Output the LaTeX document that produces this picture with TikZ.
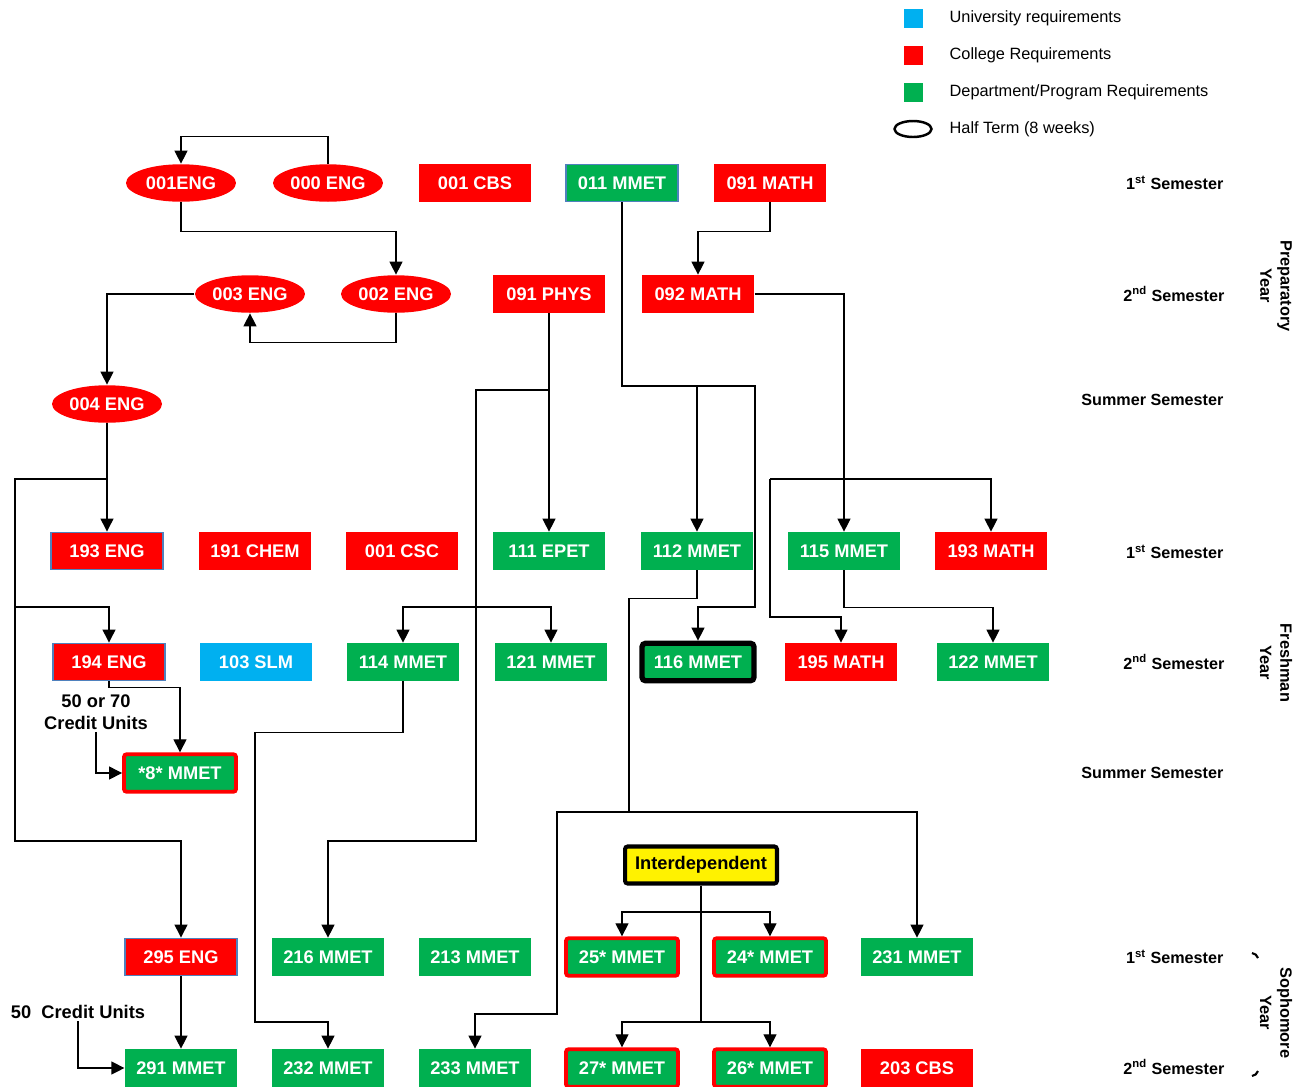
\documentclass[tikz,border=0pt]{standalone}
\usepackage{fontspec}
\setmainfont{Liberation Sans}
\usetikzlibrary{arrows.meta, positioning, shapes.geometric}
\definecolor{CollRed}{HTML}{FF0000}
\definecolor{DeptGreen}{HTML}{00B050}
\definecolor{UnivBlue}{HTML}{00B0F0}
\definecolor{EdgeBlue}{HTML}{4F81BD}

\begin{document}
\begin{tikzpicture}[x=0.02cm, y=-0.02cm, >={Triangle[width=7.4pt,length=7.4pt]}, line width=0.7pt,
  course/.style={rectangle, minimum width=2.24cm, minimum height=0.75cm, inner sep=0pt,
    text=white, font=\fontsize{10.4}{12}\selectfont\bfseries},
  college/.style={course, fill=CollRed},
  dept/.style={course, fill=DeptGreen},
  univ/.style={course, fill=UnivBlue},
  half/.style={course, ellipse, fill=CollRed, minimum width=2.2cm},
  edged/.style={draw=EdgeBlue, line width=0.8pt},
  paired/.style={dept, draw=CollRed, line width=2.2pt, rounded corners=1.5pt},
  sem/.style={anchor=east, inner sep=0pt, font=\fontsize{9.2}{11}\selectfont\bfseries},
  year/.style={rotate=-90, align=center, font=\fontsize{9.3}{11.5}\selectfont\bfseries},
  key/.style={anchor=west, inner sep=0pt, font=\fontsize{9.3}{11}\selectfont},
  keybox/.style={minimum size=0.38cm, inner sep=0pt},
  units/.style={align=center, inner sep=1pt, font=\fontsize{10.4}{12.5}\selectfont\bfseries}]
  \useasboundingbox (0,0) rectangle (1309,1086);

  % --- Legend ---
  \node[keybox, fill=UnivBlue] (kuniv) at (913,18) {};
  \node[keybox, fill=CollRed] (kcoll) at (913,55) {};
  \node[keybox, fill=DeptGreen] (kdept) at (913,92) {};
  \node[draw, ellipse, line width=1.4pt, minimum width=0.74cm, minimum height=0.32cm, inner sep=0pt] (khalf) at (913,129) {};
  \node[key] (tuniv) at (949,18) {University requirements};
  \node[key] (tcoll) at (949,55) {College Requirements};
  \node[key] (tdept) at (949,92) {Department/Program Requirements};
  \node[key] (thalf) at (949,129) {Half Term (8 weeks)};

  % --- Preparatory year ---
  \node[half] (e001) at (181,183) {001ENG};
  \node[half] (e000) at (328,183) {000 ENG};
  \node[college] (cbs001) at (475,183) {001 CBS};
  \node[dept, edged] (mmet011) at (622,183) {011 MMET};
  \node[college] (math091) at (770,183) {091 MATH};
  \node[half] (e003) at (250,294) {003 ENG};
  \node[half] (e002) at (396,294) {002 ENG};
  \node[college] (phys091) at (549,294) {091 PHYS};
  \node[college] (math092) at (698,294) {092 MATH};
  \node[half] (e004) at (107,404) {004 ENG};

  % --- Freshman year ---
  \node[college, edged] (eng193) at (107,551) {193 ENG};
  \node[college] (chem191) at (255,551) {191 CHEM};
  \node[college] (csc001) at (402,551) {001 CSC};
  \node[dept] (epet111) at (549,551) {111 EPET};
  \node[dept] (mmet112) at (697,551) {112 MMET};
  \node[dept] (mmet115) at (844,551) {115 MMET};
  \node[college] (math193) at (991,551) {193 MATH};
  \node[college, edged] (eng194) at (109,662) {194 ENG};
  \node[univ] (slm103) at (256,662) {103 SLM};
  \node[dept] (mmet114) at (403,662) {114 MMET};
  \node[dept] (mmet121) at (551,662) {121 MMET};
  \node[dept, draw=black, line width=3pt, rounded corners=2pt] (mmet116) at (698,662) {116 MMET};
  \node[college] (math195) at (841,662) {195 MATH};
  \node[dept] (mmet122) at (993,662) {122 MMET};
  \node[paired] (mmet8) at (180,773) {*8* MMET};
  \node[units] (cu70) at (96,712) {50 or 70\\Credit Units};

  % --- Sophomore year ---
  \node[draw=black, fill=yellow, line width=2.3pt, rounded corners=1.5pt, minimum width=3.04cm,
    minimum height=0.74cm, font=\fontsize{10.4}{12}\selectfont\bfseries] (inter) at (701,865) {Interdependent};
  \node[college, edged] (eng295) at (181,957) {295 ENG};
  \node[dept] (mmet216) at (328,957) {216 MMET};
  \node[dept] (mmet213) at (475,957) {213 MMET};
  \node[paired] (mmet25) at (622,957) {25* MMET};
  \node[paired] (mmet24) at (770,957) {24* MMET};
  \node[dept] (mmet231) at (917,957) {231 MMET};
  \node[dept] (mmet291) at (181,1068) {291 MMET};
  \node[dept] (mmet232) at (328,1068) {232 MMET};
  \node[dept] (mmet233) at (475,1068) {233 MMET};
  \node[paired] (mmet27) at (622,1068) {27* MMET};
  \node[paired] (mmet26) at (770,1068) {26* MMET};
  \node[college] (cbs203) at (917,1068) {203 CBS};
  \node[units] (cu50) at (78,1012) {50\ \ Credit Units};

  % --- Semester and year labels ---
  \node[sem] (s11) at (1224,183) {1\textsuperscript{st} Semester};
  \node[sem] (s12) at (1225,294) {2\textsuperscript{nd} Semester};
  \node[sem] (s1s) at (1224,400) {Summer Semester};
  \node[sem] (s21) at (1224,552) {1\textsuperscript{st} Semester};
  \node[sem] (s22) at (1225,662) {2\textsuperscript{nd} Semester};
  \node[sem] (s2s) at (1224,773) {Summer Semester};
  \node[sem] (s31) at (1224,957) {1\textsuperscript{st} Semester};
  \node[sem] (s32) at (1225,1067) {2\textsuperscript{nd} Semester};
  \node[year] (yprep) at (1276,286) {Preparatory\\Year};
  \node[year] (yfresh) at (1276,663) {Freshman\\Year};
  \node[year] (ysoph) at (1276,1013) {Sophomore\\Year};
  \draw[line width=1.2pt] (1252,953) to[bend left=30] (1258,958);
  \draw[line width=1.2pt] (1252,1076) to[bend right=30] (1258,1071);

  % --- Connectors: English ---
  \coordinate (engsplit) at (107,479);
  \coordinate (engrail) at (15,479);
  \coordinate (engtap) at (15,607);
  \coordinate (engturn) at (15,841);
  \draw[->] (e000.north) -- ++(0,-27) -| (e001.north);
  \draw[->] (e001.south) -- ++(0,29) -| (e002.north);
  \draw[->] (e002.south) -- ++(0,29) -| (e003.south);
  \draw[->] (e003.west) -| (e004.north);
  \draw[->] (e004.south) -- (eng193.north);
  \draw[->] (engsplit) -- (engrail) -- (engturn) -| (eng295.north);
  \draw[->] (engtap) -| (eng194.north);
  \draw[->] (eng194.south) -- ++(0,6) -| (mmet8.north);
  \draw[->] (cu70.south) |- (mmet8.west);
  \draw[->] (eng295.south) -- (mmet291.north);
  \draw[->] (cu50.south) |- (mmet291.west);

  % --- Connectors: physics and MMET ---
  \coordinate (physsplit) at (549,390);
  \coordinate (physrail) at (476,390);
  \coordinate (phystap) at (476,607);
  \coordinate (physturn) at (476,841);
  \coordinate (drop114) at (255,1022);
  \draw[->] (phys091.south) -- (epet111.north);
  \draw[->] (physsplit) -- (physrail) -- (physturn) -| (mmet216.north);
  \draw[->] (phystap) -| (mmet114.north);
  \draw[->] (phystap) -| (mmet121.north);
  \draw[->] (mmet114.south) -- ++(0,51) -| (drop114) -| (mmet232.north);
  \coordinate (mmetsplit) at (697,386);
  \coordinate (mmetrail) at (755,386);
  \coordinate (mmetturn) at (755,607);
  \draw[->] (mmet011.south) |- (mmetrail) -- (mmetturn) -| (mmet116.north);
  \draw[->] (mmetsplit) -- (mmet112.north);
  \coordinate (m112turn) at (629,812);
  \coordinate (m112drop) at (557,1014);
  \draw (mmet112.south) -- ++(0,28) -| (m112turn);
  \draw[->] (m112turn) -| (mmet231.north);
  \draw[->] (m112turn) -| (m112drop) -| (mmet233.north);

  % --- Connectors: mathematics ---
  \coordinate (mathsplit) at (770,479);
  \draw[->] (math091.south) -- ++(0,29) -| (math092.north);
  \draw[->] (math092.east) -| (mmet115.north);
  \draw[->] (mathsplit) -| (math193.north);
  \draw[->] (mathsplit) -- ++(0,138) -| (math195.north);
  \draw[->] (mmet115.south) -- ++(0,37) -| (mmet122.north);

  % --- Connectors: interdependent ---
  \coordinate (intsplit) at (701,912);
  \coordinate (intlow) at (701,1022);
  \draw (inter.south) -- (intlow);
  \draw[->] (intsplit) -| (mmet25.north);
  \draw[->] (intsplit) -| (mmet24.north);
  \draw[->] (intlow) -| (mmet27.north);
  \draw[->] (intlow) -| (mmet26.north);
\end{tikzpicture}
\end{document}
